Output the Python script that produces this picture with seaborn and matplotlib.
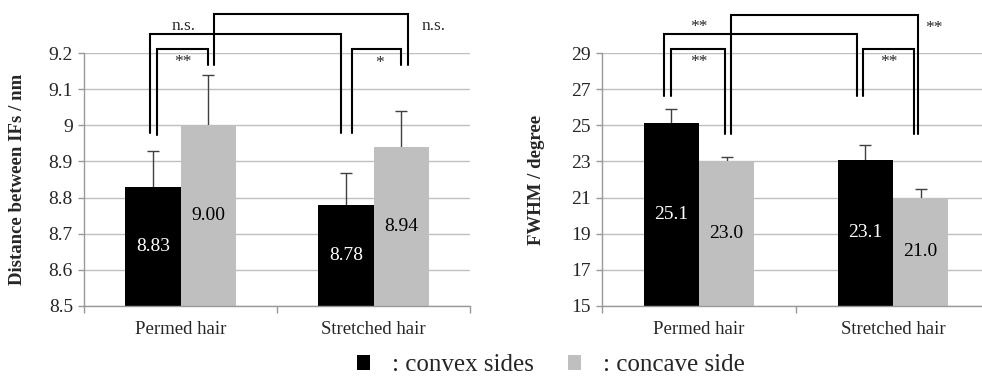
import pandas as pd
import matplotlib.pyplot as plt
import seaborn as sns
from matplotlib.patches import Patch

# data
groups = ['Permed hair', 'Stretched hair']
sides = ['convex', 'concave']
dist_convex = [8.83, 8.78]
dist_concave = [9.00, 8.94]
dist_sd_convex = [0.10, 0.087]
dist_sd_concave = [0.14, 0.10]
fwhm_convex = [25.1, 23.1]
fwhm_concave = [23.0, 21.0]
fwhm_sd_convex = [0.8, 0.8]
fwhm_sd_concave = [0.25, 0.5]

colors = {'convex': 'black', 'concave': '#bfbfbf'}

sns.set_theme(style='white')
plt.rcParams['font.family'] = ['Liberation Serif', 'DejaVu Serif']

fig = plt.figure(figsize=(9.82, 3.86), dpi=100)
ax1 = fig.add_axes([84 / 982, 80 / 386, 386 / 982, 253 / 386])
ax2 = fig.add_axes([602 / 982, 80 / 386, 388 / 982, 253 / 386])


def draw_panel(ax, convex, concave, sd_convex, sd_concave, ylim, yticks, ylabel, ytick_fmt, nd):
    df = pd.DataFrame({
        'group': groups * 2,
        'side': ['convex'] * 2 + ['concave'] * 2,
        'value': convex + concave,
    })
    sns.barplot(data=df, x='group', y='value', hue='side', hue_order=sides,
                palette=colors, width=0.57, errorbar=None, linewidth=0,
                legend=False, ax=ax, zorder=2)
    # error bars sit behind the bars so only the upper half shows
    for cont, sds in zip(ax.containers, [sd_convex, sd_concave]):
        xs = [b.get_x() + b.get_width() / 2 for b in cont]
        ys = [b.get_height() for b in cont]
        ax.errorbar(xs, ys, yerr=sds, fmt='none', ecolor='#404040',
                    elinewidth=1, capsize=4, capthick=1, zorder=1.8)
    for cont, c in zip(ax.containers, ['white', 'black']):
        ax.bar_label(cont, labels=[f'{v:.{nd}f}' for v in cont.datavalues],
                     label_type='center', color=c, fontsize=14)
    ax.set_ylim(ylim)
    ax.set_xlim(-0.5, 1.5)
    ax.set_yticks(yticks)
    ax.set_yticklabels([ytick_fmt(t) for t in yticks], fontsize=14)
    ax.set_xticks([0, 1])
    ax.set_xticklabels(groups, fontsize=13.5)
    ax.set_xticks([-0.5, 0.5, 1.5], minor=True)
    ax.tick_params(axis='x', which='major', length=0, pad=11)
    ax.tick_params(axis='x', which='minor', length=5, color='#999999', width=1, direction='out', bottom=True)
    ax.tick_params(axis='y', length=4, color='#999999', width=1, left=True, pad=4)
    ax.yaxis.grid(True, color='#bfbfbf', linewidth=1, zorder=0)
    ax.set_axisbelow(True)
    for s in ['top', 'right']:
        ax.spines[s].set_visible(False)
    for s in ['left', 'bottom']:
        ax.spines[s].set_color('#999999')
        ax.spines[s].set_linewidth(1)
    ax.set_xlabel('')
    ax.set_ylabel(ylabel, fontsize=13.5, fontweight='bold')


def bracket(ax, x0, x1, ytop, yl, yr):
    ax.plot([x0, x0, x1, x1], [yl, ytop, ytop, yr], color='black', lw=1.5,
            clip_on=False, zorder=4, solid_joinstyle='miter')


def fmt_dist(t):
    return '9' if abs(t - 9) < 1e-9 else f'{t:.1f}'


draw_panel(ax1, dist_convex, dist_concave, dist_sd_convex, dist_sd_concave,
           (8.5, 9.2), [8.5, 8.6, 8.7, 8.8, 8.9, 9.0, 9.1, 9.2],
           'Distance between IFs / nm', fmt_dist, 2)
draw_panel(ax2, fwhm_convex, fwhm_concave, fwhm_sd_convex, fwhm_sd_concave,
           (15, 29), list(range(15, 30, 2)), 'FWHM / degree', lambda t: f'{t:d}', 1)
ax1.yaxis.set_label_coords(-0.15, 0.5)
ax2.yaxis.set_label_coords(-0.147, 0.5)

# significance brackets, left panel
bracket(ax1, -0.12, 0.14, 9.211, 8.974, 9.167)
bracket(ax1, -0.16, 0.834, 9.2525, 8.978, 8.978)
bracket(ax1, 0.176, 1.18, 9.308, 9.167, 9.167)
bracket(ax1, 0.89, 1.14, 9.211, 8.978, 9.167)
ax1.text(0.015, 9.275, 'n.s.', ha='center', va='center', fontsize=12.5)
ax1.text(1.31, 9.275, 'n.s.', ha='center', va='center', fontsize=12.5)
ax1.text(0.015, 9.175, '**', ha='center', va='center', fontsize=12.5)
ax1.text(1.03, 9.172, '*', ha='center', va='center', fontsize=12.5)

# significance brackets, right panel
bracket(ax2, -0.144, 0.134, 29.22, 26.62, 24.52)
bracket(ax2, -0.18, 0.814, 30.05, 26.62, 26.6)
bracket(ax2, 0.165, 1.13, 31.1, 24.52, 24.52)
bracket(ax2, 0.845, 1.108, 29.22, 26.62, 24.52)
ax2.text(0.0, 30.45, '**', ha='center', va='center', fontsize=12.5)
ax2.text(0.0, 28.5, '**', ha='center', va='center', fontsize=12.5)
ax2.text(0.98, 28.5, '**', ha='center', va='center', fontsize=12.5)
ax2.text(1.21, 30.4, '**', ha='center', va='center', fontsize=12.5)

handles = [Patch(facecolor=colors[s], edgecolor='none') for s in sides]
fig.legend(handles, [': convex sides', ': concave side'], loc='center',
           bbox_to_anchor=(0.561, 0.054), ncol=2, frameon=False, fontsize=18,
           handlelength=0.52, handleheight=0.52, handletextpad=0.85, columnspacing=1.4)

fig.savefig('out.png', dpi=100)
